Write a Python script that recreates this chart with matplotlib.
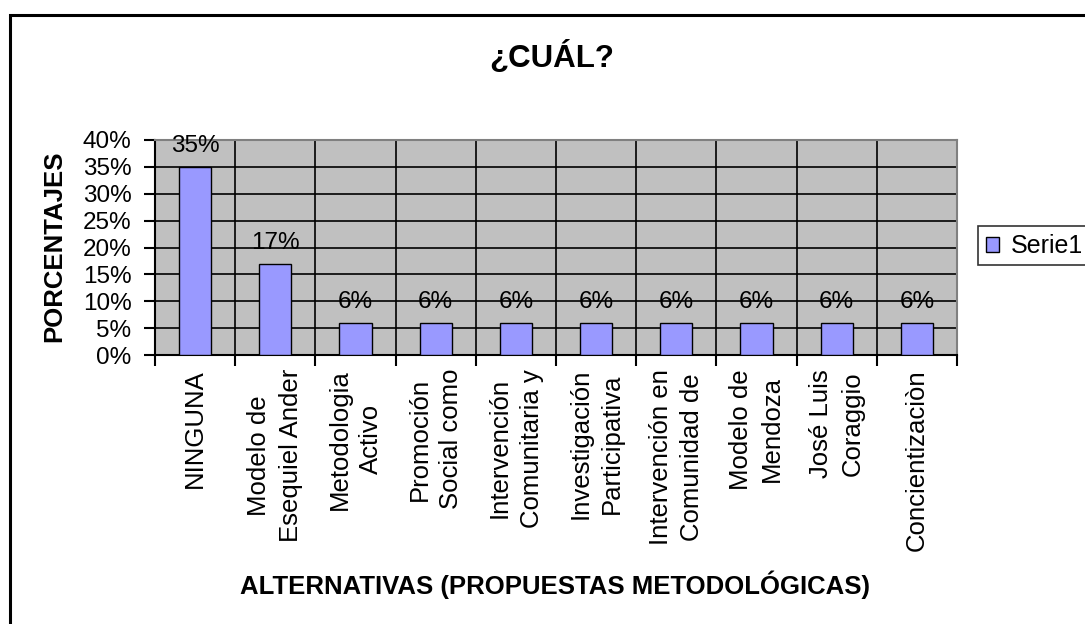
import matplotlib
matplotlib.use("Agg")
import matplotlib.pyplot as plt
from matplotlib.patches import Rectangle
from matplotlib.ticker import MultipleLocator, PercentFormatter

categories = ["NINGUNA", "Modelo de\nEsequiel Ander", "Metodologia\nActivo",
              "Promoción\nSocial como", "Intervención\nComunitaria y",
              "Investigación\nParticipativa", "Intervención en\nComunidad de",
              "Modelo de\nMendoza", "José Luis\nCoraggio", "Concientizaciòn"]
values = [35, 17, 6, 6, 6, 6, 6, 6, 6, 6]
value_labels = ["35%", "17%", "6%", "6%", "6%", "6%", "6%", "6%", "6%", "6%"]
series_name = "Serie1"

plt.rcParams['font.family'] = ['Liberation Sans', 'DejaVu Sans']

W, H = 1085, 624
fig = plt.figure(figsize=(W / 100, H / 100), dpi=100)
fig.patch.set_facecolor("white")

# outer chart border (top and left visible, right/bottom beyond canvas)
fig.add_artist(Rectangle((10 / W, -0.05), 1.2, (H - 15) / H + 0.05,
                         transform=fig.transFigure, fill=False,
                         edgecolor="black", linewidth=2.2))

ax = fig.add_axes([155 / W, (H - 355) / H, 802 / W, 215 / H])
ax.set_facecolor("#C0C0C0")

x = list(range(len(categories)))
bars = ax.bar(x, values, width=0.4, color="#9999FF", edgecolor="black",
              linewidth=1.0, zorder=3, label=series_name)

for xi, v, lab in zip(x, values, value_labels):
    ax.annotate(lab, (xi, v), xytext=(0, 7), textcoords="offset points",
                ha="center", va="bottom", fontsize=17.5, color="black", zorder=4,
                annotation_clip=False)

ax.set_xlim(-0.5, len(categories) - 0.5)
ax.set_ylim(0, 40)
ax.yaxis.set_major_locator(MultipleLocator(5))
ax.yaxis.set_major_formatter(PercentFormatter(decimals=0))
ax.grid(axis="y", color="black", linewidth=1.2, zorder=1)
ax.set_axisbelow(True)

# category boundaries
for b in range(1, len(categories)):
    ax.axvline(b - 0.5, color="black", linewidth=1.2, zorder=1)

ax.set_xticks(x)
ax.set_xticklabels(categories, rotation=90, fontsize=18.5, linespacing=1.4,
                   multialignment="center")
ax.set_xticks([i - 0.5 for i in range(len(categories) + 1)], minor=True)
ax.tick_params(axis="x", which="major", length=0, pad=10)
ax.tick_params(axis="x", which="minor", length=8, width=1.5, direction="out")
ax.tick_params(axis="y", length=8, width=1.5, direction="out", labelsize=17.5, pad=9)

for s in ["left", "bottom"]:
    ax.spines[s].set_color("black")
    ax.spines[s].set_linewidth(1.5)
for s in ["top", "right"]:
    ax.spines[s].set_color("#808080")
    ax.spines[s].set_linewidth(1.5)

fig.text(552 / W, 1 - 58 / H, "¿CUÁL?", ha="center", va="center",
         fontsize=22.5, fontweight="bold")
fig.text(54 / W, 1 - 246 / H, "PORCENTAJES", ha="center", va="center",
         rotation=90, fontsize=18.5, fontweight="bold")
fig.text(555 / W, 1 - 585 / H, "ALTERNATIVAS (PROPUESTAS METODOLÓGICAS)",
         ha="center", va="center", fontsize=18.5, fontweight="bold")

leg = fig.legend(handles=[bars], labels=[series_name], loc="center left",
                 bbox_to_anchor=(978 / W, 1 - 246 / H), fontsize=18,
                 frameon=True, fancybox=False, shadow=False,
                 handlelength=0.55, handleheight=0.55, handletextpad=0.45,
                 borderpad=0.3, borderaxespad=0)
leg.get_frame().set_edgecolor("black")
leg.get_frame().set_linewidth(1.2)

fig.savefig("out.png", dpi=100)
